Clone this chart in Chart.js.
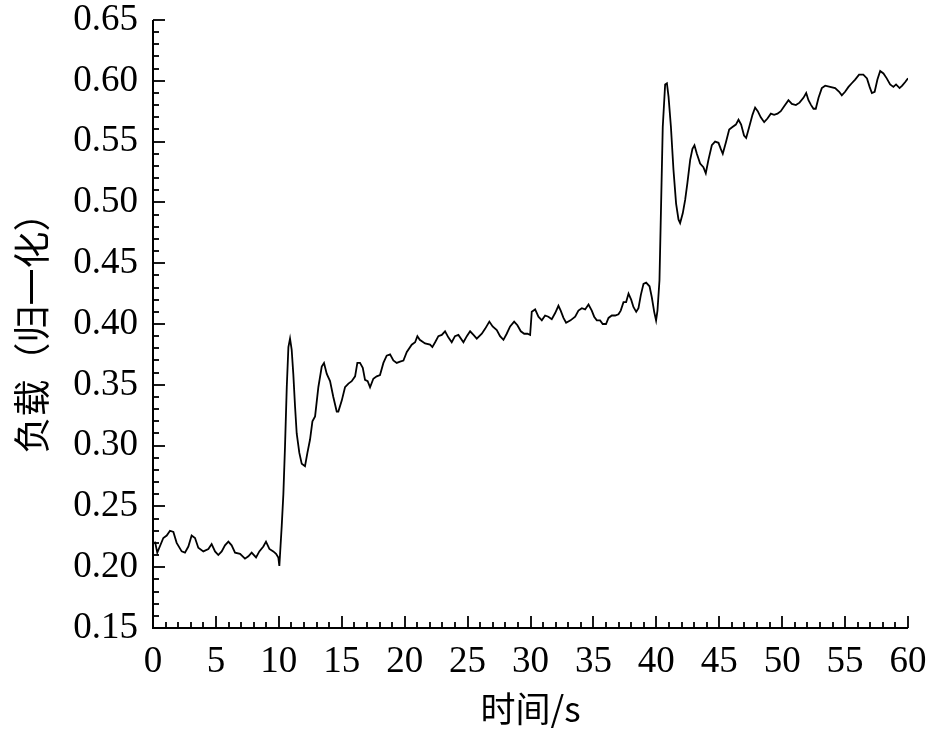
<!DOCTYPE html>
<html>
<head>
<meta charset="utf-8">
<script src="https://cdn.jsdelivr.net/npm/chart.js@4.4.1/dist/chart.umd.min.js"></script>
<style>
html,body{margin:0;padding:0;background:#fff;}
canvas{display:block;}
</style>
</head>
<body>
<canvas id="c" width="945" height="734"></canvas>
<script>
// time (s)
const times = [
0.16,0.34,0.82,1.09,1.35,1.62,1.88,2.28,2.54,2.81,3.07,3.34,3.6,4.0,4.4,4.66,4.93,5.19,5.46,5.72,5.99,6.25,6.52,6.92,7.31,7.58,7.84,8.19,8.45,8.77,8.98,9.25,9.56,9.78,9.96,10.04,10.23,10.36,
10.49,10.63,10.76,10.89,11.02,11.15,11.29,11.42,11.63,11.82,12.08,12.27,12.48,12.67,12.88,13.14,13.41,13.59,13.81,14.07,14.33,14.6,14.73,15.0,15.26,15.53,15.79,16.06,16.24,16.45,16.67,16.85,17.06,17.25,17.51,17.78,18.04,18.31,18.57,18.84,19.1,19.37,19.63,19.9,
20.17,20.56,20.83,21.01,21.2,21.62,22.02,22.2,22.42,22.68,22.95,23.21,23.47,23.74,24.0,24.27,24.67,24.94,25.2,25.47,25.73,26.13,26.39,26.73,26.99,27.32,27.58,27.85,28.11,28.38,28.7,28.96,29.23,29.5,29.76,29.97,
30.1,30.37,30.63,30.9,31.16,31.42,31.69,31.96,32.22,32.4,32.62,32.83,33.18,33.55,33.81,34.08,34.34,34.61,34.87,35.06,35.27,35.53,35.74,36.0,36.2,36.46,36.73,36.99,37.17,37.39,37.6,37.79,38.0,38.18,38.4,38.58,38.77,38.98,39.19,39.46,39.64,39.83,39.98,40.09,40.25,
40.51,40.7,40.84,40.97,41.16,41.36,41.57,41.76,41.89,42.1,42.29,42.47,42.69,42.87,43.03,43.22,43.48,43.74,43.93,44.14,44.41,44.67,44.94,45.12,45.28,45.52,45.79,46.05,46.32,46.53,46.74,46.97,47.14,47.38,47.64,47.85,48.06,48.3,48.57,48.83,49.1,49.36,49.63,49.89,
50.16,50.5,50.77,51.09,51.38,51.69,51.91,52.09,52.3,52.49,52.67,52.89,53.15,53.42,53.81,54.21,54.53,54.74,55.0,55.27,55.53,55.8,56.11,56.45,56.74,56.95,57.13,57.35,57.57,57.79,58.05,58.31,58.58,58.84,59.05,59.33,59.54,59.78,60.0
];
// normalized load
const loads = [
0.221,0.212,0.224,0.226,0.230,0.229,0.220,0.213,0.212,0.217,0.226,0.224,0.216,0.213,0.215,0.219,0.213,0.210,0.213,0.218,0.221,0.218,0.212,0.211,0.207,0.209,0.212,0.208,0.213,0.217,0.221,0.215,0.213,0.211,0.208,0.201,0.234,0.260,
0.299,0.348,0.381,0.388,0.379,0.359,0.332,0.310,0.294,0.285,0.283,0.294,0.305,0.320,0.324,0.348,0.365,0.368,0.359,0.353,0.340,0.328,0.328,0.337,0.348,0.351,0.353,0.357,0.368,0.368,0.364,0.354,0.353,0.348,0.355,0.357,0.358,0.368,0.374,0.375,0.370,0.368,0.369,0.370,
0.377,0.383,0.385,0.390,0.387,0.384,0.383,0.381,0.385,0.390,0.391,0.394,0.389,0.385,0.390,0.391,0.385,0.390,0.394,0.391,0.388,0.392,0.396,0.402,0.398,0.395,0.390,0.387,0.392,0.398,0.402,0.399,0.394,0.392,0.392,0.391,
0.410,0.412,0.406,0.403,0.407,0.406,0.404,0.409,0.415,0.411,0.405,0.401,0.403,0.406,0.411,0.413,0.412,0.416,0.411,0.406,0.403,0.403,0.400,0.400,0.405,0.407,0.407,0.408,0.411,0.418,0.418,0.425,0.420,0.414,0.410,0.413,0.424,0.433,0.434,0.431,0.422,0.410,0.403,0.411,0.436,
0.562,0.597,0.598,0.587,0.562,0.527,0.499,0.486,0.483,0.491,0.502,0.516,0.535,0.544,0.547,0.540,0.532,0.529,0.524,0.535,0.547,0.550,0.549,0.544,0.540,0.549,0.560,0.562,0.564,0.568,0.564,0.555,0.553,0.562,0.572,0.578,0.575,0.570,0.566,0.569,0.573,0.572,0.573,0.575,
0.579,0.584,0.581,0.580,0.582,0.586,0.590,0.584,0.580,0.577,0.577,0.586,0.594,0.596,0.595,0.594,0.591,0.588,0.591,0.595,0.598,0.601,0.605,0.605,0.602,0.595,0.590,0.591,0.601,0.608,0.606,0.602,0.597,0.595,0.597,0.594,0.596,0.599,0.602
];
const xRange = [0, 60];
const yRange = [0.15, 0.65];
const xTitle = '时间/s';
const yTitle = '负载（归一化）';

const points = times.map((t, i) => ({x: t, y: loads[i]}));

function isMult(v, s) { return Math.abs(v / s - Math.round(v / s)) < 1e-6; }

const inwardTicks = {
  id: 'inwardTicks',
  afterDraw(chart) {
    const ctx = chart.ctx;
    const xs = chart.scales.x, ys = chart.scales.y;
    const ca = chart.chartArea;
    ctx.save();
    ctx.strokeStyle = '#000';
    ctx.lineWidth = 2;
    ctx.beginPath();
    ctx.moveTo(ca.left, ca.top);
    ctx.lineTo(ca.left, ca.bottom);
    ctx.lineTo(ca.right, ca.bottom);
    ctx.stroke();
    ctx.lineWidth = 1.8;
    ys.ticks.forEach(t => {
      const py = Math.round(ys.getPixelForValue(t.value));
      const len = isMult(t.value, 0.05) ? 12 : 6;
      ctx.beginPath();
      ctx.moveTo(ca.left, py);
      ctx.lineTo(ca.left + len, py);
      ctx.stroke();
    });
    xs.ticks.forEach(t => {
      const px = Math.round(xs.getPixelForValue(t.value));
      const len = isMult(t.value, 5) ? 12 : 6;
      ctx.beginPath();
      ctx.moveTo(px, ca.bottom);
      ctx.lineTo(px, ca.bottom - len);
      ctx.stroke();
    });
    ctx.restore();
  }
};

new Chart(document.getElementById('c'), {
  type: 'line',
  data: {
    datasets: [{
      data: points,
      borderColor: '#000',
      borderWidth: 1.8,
      pointRadius: 0,
      tension: 0,
      fill: false
    }]
  },
  options: {
    responsive: false,
    animation: false,
    devicePixelRatio: 1,
    layout: { padding: { left: 0, top: 20, right: 37, bottom: 0 } },
    plugins: { legend: { display: false }, tooltip: { enabled: false } },
    scales: {
      x: {
        type: 'linear',
        min: xRange[0], max: xRange[1],
        grid: { display: false, drawTicks: false },
        border: { display: false },
        ticks: {
          stepSize: 1, autoSkip: false, maxRotation: 0,
          padding: 12,
          color: '#000',
          font: { family: '"Liberation Serif", "Times New Roman", serif', size: 37 },
          callback: v => isMult(v, 5) ? String(Math.round(v)) : ''
        },
        title: {
          display: true, text: xTitle, color: '#000',
          font: { family: '"Noto Sans CJK SC", "Liberation Serif", serif', size: 35 },
          padding: { top: 0, bottom: 4 }
        },
        afterFit(scale) { scale.height = 106; scale.paddingLeft = 0; scale.paddingRight = 0; }
      },
      y: {
        type: 'linear',
        min: yRange[0], max: yRange[1],
        grid: { display: false, drawTicks: false },
        border: { display: false },
        ticks: {
          stepSize: 0.01, autoSkip: false,
          padding: 15,
          color: '#000',
          font: { family: '"Liberation Serif", "Times New Roman", serif', size: 37 },
          callback: v => isMult(v, 0.05) ? v.toFixed(2) : ''
        },
        title: {
          display: true, text: yTitle, color: '#000',
          font: { family: '"Noto Sans CJK SC", serif', size: 37 },
          padding: { top: 10, bottom: 0 }
        },
        afterFit(scale) { scale.width = 153; scale.paddingTop = 0; scale.paddingBottom = 0; }
      }
    }
  },
  plugins: [inwardTicks]
});
</script>
</body>
</html>
